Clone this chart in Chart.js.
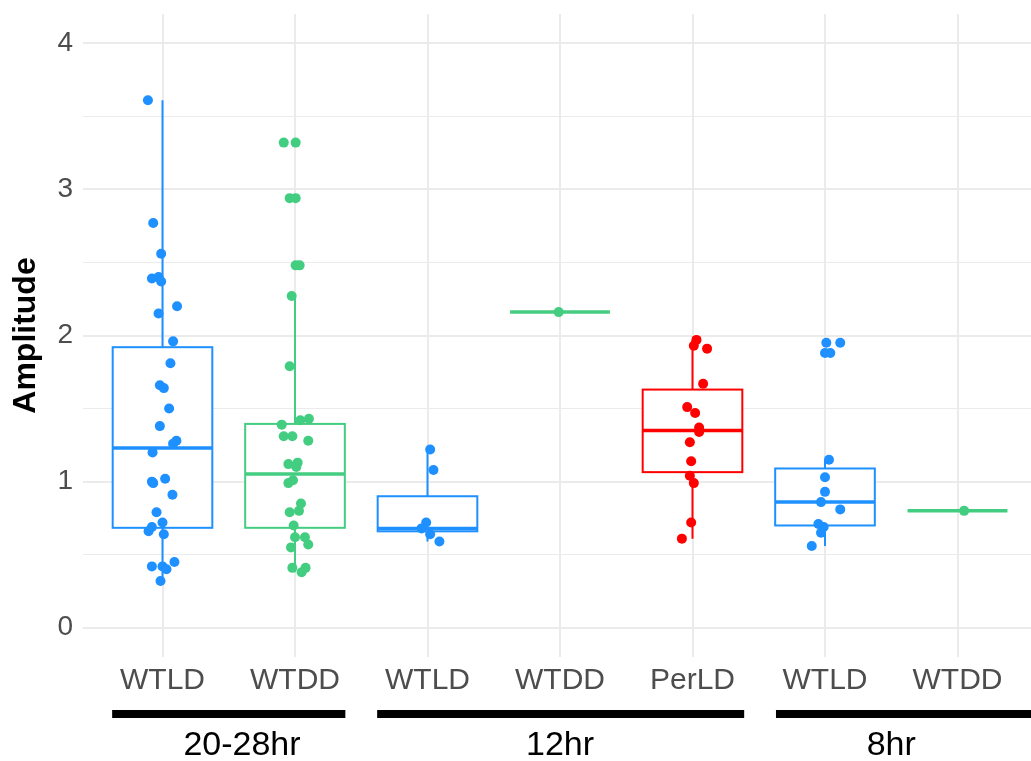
<!DOCTYPE html>
<html>
<head>
<meta charset="utf-8">
<script src="https://cdn.jsdelivr.net/npm/chart.js@4"></script>
<style>
  html, body { margin: 0; padding: 0; background: #fff; overflow: hidden; }
  #wrap { width: 1042px; height: 761px; }
</style>
</head>
<body>
<div id="wrap"><canvas id="chart" width="1042" height="761"></canvas></div>
<script>
// categories along x, and which period group they belong to
var categories = ['WTLD', 'WTDD', 'WTLD', 'WTDD', 'PerLD', 'WTLD', 'WTDD'];
var colours = ['#1E90FF', '#43CD80', '#1E90FF', '#43CD80', '#FF0000', '#1E90FF', '#43CD80'];
var groupNames = ['20-28hr', '12hr', '8hr'];
var groupSpans = [[0.62, 2.38], [2.62, 5.39], [5.63, 7.6]];
var groupLabelAt = [1.6, 4.0, 6.5];
var yTicks = [0, 0.5, 1, 1.5, 2, 2.5, 3, 3.5, 4];

// box stats
var q1      = [0.684, 0.684, 0.66, 2.16, 1.065, 0.70, 0.80];
var median  = [1.23, 1.053, 0.68, 2.16, 1.35, 0.86, 0.80];
var q3      = [1.92, 1.395, 0.90, 2.16, 1.63, 1.09, 0.80];
var whiskLo = [0.32, 0.38, 0.59, 2.16, 0.61, 0.56, 0.80];
var whiskHi = [3.61, 2.27, 1.22, 2.16, 1.97, 1.15, 0.80];

// raw points (amplitude) and their horizontal jitter
var amp1 = [3.61, 2.77, 2.56, 2.39, 2.40, 2.37, 2.20, 2.15, 1.96, 1.81, 1.66, 1.64, 1.50, 1.38, 1.28, 1.26,
            1.20, 1.00, 0.99, 1.02, 0.91, 0.79, 0.69, 0.72, 0.66, 0.64, 0.42, 0.42, 0.40, 0.45, 0.32];
var jit1 = [-0.11, -0.07, -0.01, -0.08, -0.03, -0.01, 0.11, -0.03, 0.08, 0.06, -0.02, 0.01, 0.05, -0.02, 0.105, 0.08,
            -0.075, -0.08, -0.07, 0.02, 0.075, -0.045, -0.08, 0.0, -0.105, 0.01, -0.08, 0.0, 0.03, 0.09, -0.015];
var amp2 = [3.32, 3.32, 2.94, 2.94, 2.48, 2.48, 2.27, 1.79, 1.39, 1.42, 1.43, 1.31, 1.31, 1.28, 1.12,
            1.13, 1.10, 0.99, 1.01, 0.85, 0.79, 0.80, 0.70, 0.62, 0.62, 0.55, 0.57, 0.41, 0.41, 0.38];
var jit2 = [-0.085, 0.005, -0.04, 0.005, 0.005, 0.035, -0.025, -0.04, -0.10, 0.04, 0.105, -0.085, -0.02, 0.10, -0.05,
            0.02, 0.01, -0.05, -0.015, 0.045, -0.04, 0.03, -0.01, 0.0, 0.075, -0.03, 0.10, -0.02, 0.08, 0.05];
var amp3 = [1.22, 1.08, 0.72, 0.68, 0.64, 0.59];
var jit3 = [0.02, 0.045, -0.01, -0.045, 0.02, 0.09];
var amp4 = [2.16];
var jit4 = [-0.01];
var amp5 = [1.97, 1.93, 1.91, 1.67, 1.51, 1.47, 1.37, 1.34, 1.27, 1.14, 1.04, 0.99, 0.72, 0.61];
var jit5 = [0.03, 0.01, 0.11, 0.08, -0.04, 0.02, 0.05, 0.05, -0.02, -0.01, -0.02, 0.01, -0.01, -0.08];
var amp6 = [1.95, 1.95, 1.88, 1.88, 1.15, 1.03, 0.93, 0.86, 0.81, 0.71, 0.69, 0.65, 0.56];
var jit6 = [0.01, 0.115, 0.0, 0.04, 0.03, 0.0, 0.0, -0.03, 0.115, -0.05, -0.01, -0.03, -0.10];
var amp7 = [0.80];
var jit7 = [0.05];

var amps = [amp1, amp2, amp3, amp4, amp5, amp6, amp7];
var jits = [jit1, jit2, jit3, jit4, jit5, jit6, jit7];
var boxHalf = 0.376;

var datasets = amps.map(function(a, i) {
    return {
        data: a.map(function(v, j) { return { x: i + 1 + jits[i][j], y: v }; }),
        backgroundColor: colours[i],
        borderWidth: 0,
        pointRadius: 5
    };
});

var boxPlugin = {
    id: 'boxes',
    beforeDatasetsDraw: function(chart) {
        var x = chart.scales.x, y = chart.scales.y, ctx = chart.ctx;
        ctx.save();
        categories.forEach(function(c, i) {
            var cx = x.getPixelForValue(i + 1);
            var l = x.getPixelForValue(i + 1 - boxHalf), r = x.getPixelForValue(i + 1 + boxHalf);
            var top = y.getPixelForValue(q3[i]), bot = y.getPixelForValue(q1[i]);
            ctx.strokeStyle = colours[i];
            ctx.lineWidth = 2;
            ctx.beginPath();
            ctx.moveTo(cx, top); ctx.lineTo(cx, y.getPixelForValue(whiskHi[i]));
            ctx.moveTo(cx, bot); ctx.lineTo(cx, y.getPixelForValue(whiskLo[i]));
            ctx.stroke();
            ctx.fillStyle = '#ffffff';
            ctx.fillRect(l, top, r - l, bot - top);
            ctx.strokeRect(l, top, r - l, bot - top);
            ctx.lineWidth = 3.5;
            ctx.beginPath();
            var m = y.getPixelForValue(median[i]);
            ctx.moveTo(l, m); ctx.lineTo(r, m);
            ctx.stroke();
        });
        ctx.restore();
    }
};

var groupPlugin = {
    id: 'groups',
    afterDraw: function(chart) {
        var x = chart.scales.x, ctx = chart.ctx;
        ctx.save();
        ctx.strokeStyle = '#000';
        ctx.lineWidth = 8;
        ctx.fillStyle = '#000';
        ctx.font = '34px "Liberation Sans", Arial, sans-serif';
        ctx.textAlign = 'center';
        ctx.textBaseline = 'middle';
        groupNames.forEach(function(g, i) {
            ctx.beginPath();
            ctx.moveTo(x.getPixelForValue(groupSpans[i][0]), 714);
            ctx.lineTo(x.getPixelForValue(groupSpans[i][1]), 714);
            ctx.stroke();
            ctx.fillText(g, x.getPixelForValue(groupLabelAt[i]), 746);
        });
        ctx.restore();
    }
};

var gridWidth = function(c) { return c.tick && c.tick.value % 1 === 0 ? 2 : 1; };

new Chart(document.getElementById('chart'), {
    type: 'scatter',
    data: { datasets: datasets },
    plugins: [boxPlugin, groupPlugin],
    options: {
        responsive: false,
        animation: false,
        layout: { padding: { top: 14, right: 1, left: 0, bottom: 0 } },
        plugins: { legend: { display: false }, tooltip: { enabled: false } },
        scales: {
            x: {
                type: 'linear', min: 0.4, max: 7.6,
                afterBuildTicks: function(s) { s.ticks = categories.map(function(c, i) { return { value: i + 1 }; }); },
                afterFit: function(s) { s.height = 104; s.paddingLeft = 0; s.paddingRight = 0; },
                grid: { color: '#ebebeb', lineWidth: 2, drawTicks: false },
                border: { display: false },
                ticks: {
                    autoSkip: false, maxRotation: 0, padding: 6,
                    color: '#4d4d4d',
                    font: { family: '"Liberation Sans", Arial, sans-serif', size: 30 },
                    callback: function(v) { return categories[Math.round(v) - 1]; }
                }
            },
            y: {
                min: -0.2, max: 4.2,
                afterBuildTicks: function(s) { s.ticks = yTicks.map(function(v) { return { value: v }; }); },
                afterFit: function(s) { s.width = 83; s.paddingTop = 0; s.paddingBottom = 0; },
                grid: { color: '#ebebeb', lineWidth: gridWidth, drawTicks: false },
                border: { display: false },
                ticks: {
                    padding: 10, color: '#4d4d4d',
                    font: { family: '"Liberation Sans", Arial, sans-serif', size: 28 },
                    callback: function(v) { return v % 1 === 0 ? String(v) : ''; }
                },
                title: {
                    display: true, text: 'Amplitude', color: '#000',
                    font: { family: '"Liberation Sans", Arial, sans-serif', size: 32, weight: 'bold' },
                    padding: { top: 7, bottom: 0 }
                }
            }
        }
    }
});
</script>
</body>
</html>
